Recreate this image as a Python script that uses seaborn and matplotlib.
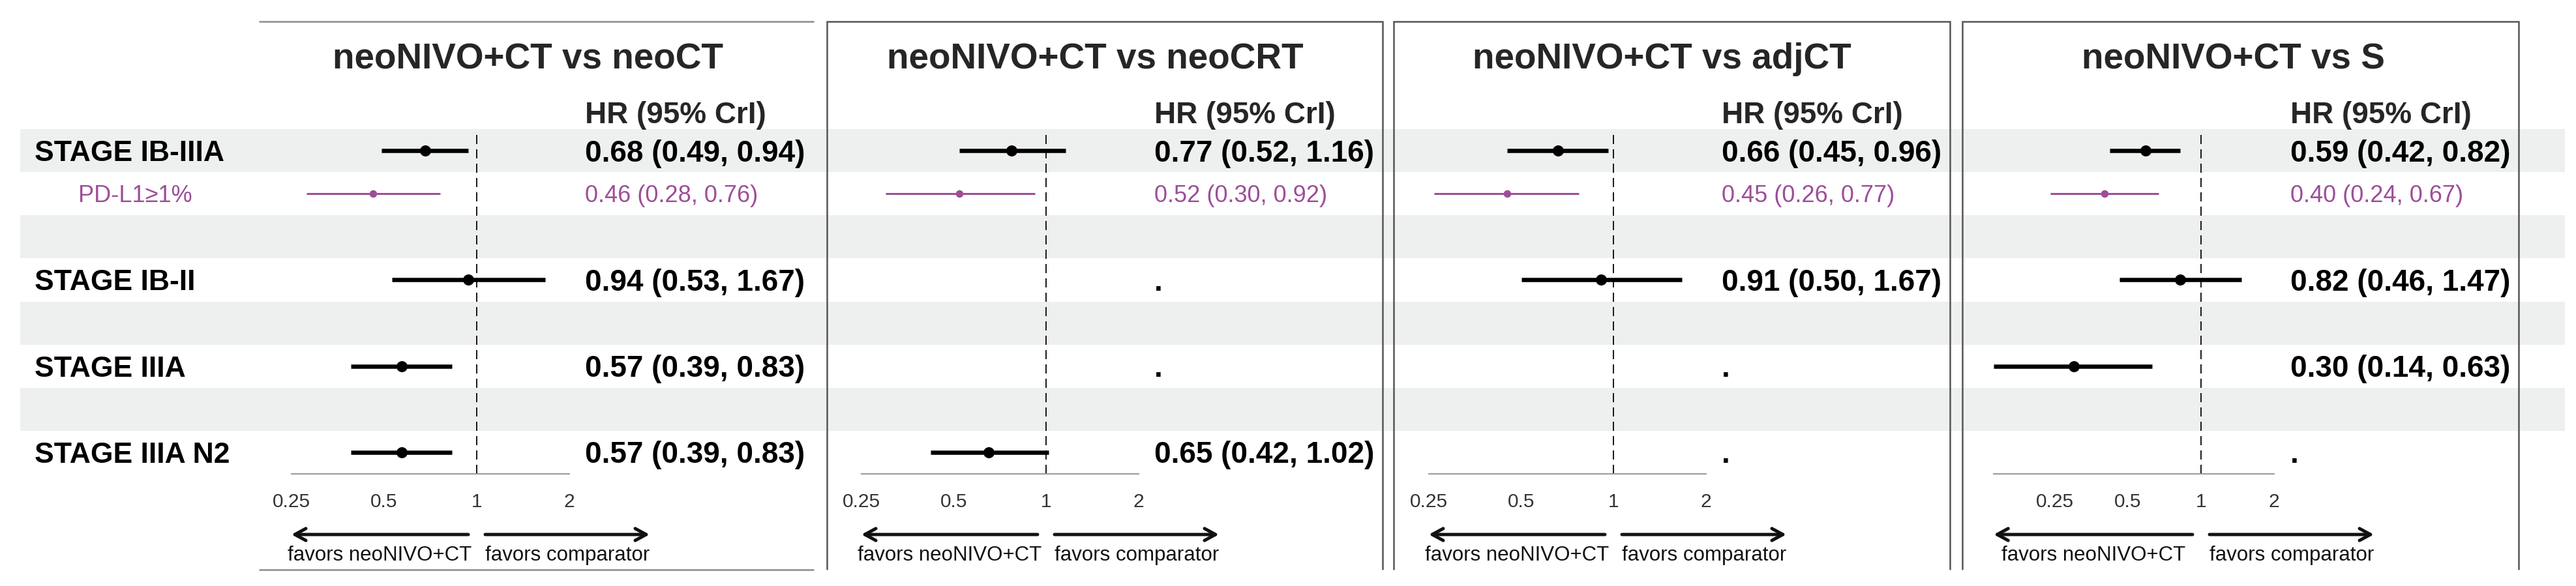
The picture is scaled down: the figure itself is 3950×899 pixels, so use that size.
import numpy as np
import pandas as pd
import matplotlib
matplotlib.use("Agg")
import matplotlib.pyplot as plt
import seaborn as sns

sns.set_style("white")
plt.rcParams['font.family'] = ['Liberation Sans', 'DejaVu Sans']

# ---------------- data ----------------
comparisons = ["neoNIVO+CT vs neoCT", "neoNIVO+CT vs neoCRT",
               "neoNIVO+CT vs adjCT", "neoNIVO+CT vs S"]
subgroups = ["STAGE IB-IIIA", "PD-L1\u22651%", "STAGE IB-II", "STAGE IIIA", "STAGE IIIA N2"]
is_pdl1 = [False, True, False, False, False]

nan = np.nan
hr_neoCT = [0.68, 0.46, 0.94, 0.57, 0.57]
lo_neoCT = [0.49, 0.28, 0.53, 0.39, 0.39]
hi_neoCT = [0.94, 0.76, 1.67, 0.83, 0.83]

hr_neoCRT = [0.77, 0.52, nan, nan, 0.65]
lo_neoCRT = [0.52, 0.30, nan, nan, 0.42]
hi_neoCRT = [1.16, 0.92, nan, nan, 1.02]

hr_adjCT = [0.66, 0.45, 0.91, nan, nan]
lo_adjCT = [0.45, 0.26, 0.50, nan, nan]
hi_adjCT = [0.96, 0.77, 1.67, nan, nan]

hr_S = [0.59, 0.40, 0.82, 0.30, nan]
lo_S = [0.42, 0.24, 0.46, 0.14, nan]
hi_S = [0.82, 0.67, 1.47, 0.63, nan]

tick_values = [0.25, 0.5, 1, 2]
tick_labels = ["0.25", "0.5", "1", "2"]
header = "HR (95% CrI)"
left_label = "favors neoNIVO+CT"
right_label = "favors comparator"

panels = [(hr_neoCT, lo_neoCT, hi_neoCT), (hr_neoCRT, lo_neoCRT, hi_neoCRT),
          (hr_adjCT, lo_adjCT, hi_adjCT), (hr_S, lo_S, hi_S)]

# ---------------- layout (pixels) ----------------
W, H = 3950, 899
DPI = 100
row_of_subgroup = [0, 1, 3, 5, 7]
n_rows = 8
row_top, axis_y = 198, 727
row_h = (axis_y - row_top) / n_rows
ref_px = [731, 1604, 2474, 3375]          # x position of HR = 1
k_px = [142, 141.5, 141.5, 112]           # pixels per doubling
text_px = [897, 1770, 2640, 3512]
title_px = [810, 1679, 2548, 3424]
ax_span = [(400, 890), (1272, 1765), (2141, 2635), (3013, 3505)]
boxes = [(1268, 2120), (2137, 2990), (3009, 3862)]

BLACK = "#000000"
PURPLE = "#9D4E98"
BAND = "#EEF0F0"

def pt(px):
    return px * 72.0 / DPI

fig = plt.figure(figsize=(W / DPI, H / DPI), dpi=DPI)
bg = fig.add_axes([0, 0, 1, 1], zorder=0)
bg.set_xlim(0, W)
bg.set_ylim(H, 0)
bg.axis("off")

def row_c(r):
    return row_top + (r + 0.5) * row_h

# grey bands
for r in range(0, n_rows, 2):
    bg.axhspan(row_top + r * row_h, row_top + (r + 1) * row_h,
               xmin=31 / W, xmax=3933 / W, color=BAND, lw=0, zorder=0)

# row labels
for name, r, pd1 in zip(subgroups, row_of_subgroup, is_pdl1):
    if pd1:
        bg.text(120, row_c(r) + 13, name, fontsize=26, color=PURPLE,
                ha="left", va="baseline")
    else:
        bg.text(53, row_c(r) + 16, name, fontsize=32, fontweight="bold",
                color=BLACK, ha="left", va="baseline")

# panel frames
bg.plot([397, 1248], [33, 33], color="#9c9c9c", lw=pt(3), solid_capstyle="butt", zorder=5)
bg.plot([397, 1248], [874, 874], color="#9c9c9c", lw=pt(3), solid_capstyle="butt", zorder=5)
for x0, x1 in boxes:
    bg.plot([x0, x0, x1, x1], [873, 33, 33, 873], color="#555555", lw=pt(2.5),
            solid_joinstyle="miter", zorder=5)

for p, (hr, lo, hi) in enumerate(panels):
    ref, k = ref_px[p], k_px[p]
    a0, a1 = ax_span[p]
    ax = fig.add_axes([a0 / W, 1 - axis_y / H, (a1 - a0) / W, (axis_y - row_top) / H],
                      zorder=2)
    ax.patch.set_alpha(0)
    ax.set_xscale("log", base=2)
    ax.set_xlim(2 ** ((a0 - ref) / k), 2 ** ((a1 - ref) / k))
    ax.set_ylim(n_rows - 0.5, -0.5)

    df = pd.DataFrame({"hr": hr, "lo": lo, "hi": hi, "row": row_of_subgroup,
                       "pdl1": is_pdl1})
    ok = df.dropna()
    main = ok[~ok.pdl1]
    sub = ok[ok.pdl1]

    ax.axvline(1, ymax=1 - 7 / (axis_y - row_top), color="#1a1a1a", lw=pt(2),
               dashes=(7, 4), zorder=1)
    ax.hlines(main.row, main.lo, main.hi, color=BLACK, lw=pt(6.5), zorder=2)
    ax.hlines(sub.row, sub.lo, sub.hi, color=PURPLE, lw=pt(3), zorder=2)
    sns.scatterplot(data=main, x="hr", y="row", color=BLACK, s=pt(17) ** 2,
                    linewidth=0, ax=ax, zorder=3, legend=False)
    sns.scatterplot(data=sub, x="hr", y="row", color=PURPLE, s=pt(11.5) ** 2,
                    linewidth=0, ax=ax, zorder=3, legend=False)
    ax.set_xlabel("")
    ax.set_ylabel("")
    ax.set_yticks([])

    lower = min(tick_values[0], np.nanmin(lo))
    for s in ["top", "left", "right"]:
        ax.spines[s].set_visible(False)
    ax.spines["bottom"].set_bounds(lower, tick_values[-1])
    ax.spines["bottom"].set_color("#9a9a9a")
    ax.spines["bottom"].set_linewidth(pt(2))
    ax.set_xticks(tick_values)
    ax.set_xticklabels(tick_labels)
    ax.xaxis.set_minor_locator(matplotlib.ticker.NullLocator())
    ax.tick_params(axis="x", direction="out", length=pt(14), width=pt(1.5),
                   color="#9a9a9a", labelsize=21.5, labelcolor="#333333", pad=11)

    # text column
    bg.text(title_px[p], 105, comparisons[p], fontsize=39.5, fontweight="bold",
            ha="center", va="baseline")
    bg.text(text_px[p], 189, header, fontsize=33, fontweight="bold",
            ha="left", va="baseline")
    for h_, l_, u_, r, pd1 in zip(hr, lo, hi, row_of_subgroup, is_pdl1):
        if np.isnan(h_):
            lab = "."
        else:
            lab = f"{h_:.2f} ({l_:.2f}, {u_:.2f})"
        if pd1:
            bg.text(text_px[p], row_c(r) + 13, lab, fontsize=26, color=PURPLE,
                    ha="left", va="baseline")
        else:
            bg.text(text_px[p], row_c(r) + 16.5, lab, fontsize=33, fontweight="bold",
                    color=BLACK, ha="left", va="baseline")

    # favours arrows
    lower_px = ref + k * np.log2(lower)
    ay = 820
    aprops = dict(arrowstyle="->,head_length=0.55,head_width=0.3", lw=pt(5),
                  color="#111111", shrinkA=0, shrinkB=0, mutation_scale=22)
    bg.annotate("", xy=(lower_px, ay), xytext=(ref - 13, ay), arrowprops=aprops)
    bg.annotate("", xy=(ref + 265, ay), xytext=(ref + 13, ay), arrowprops=aprops)
    bg.text((lower_px + ref - 13) / 2, 860, left_label, fontsize=22.5,
            ha="center", va="baseline", color="#111111")
    bg.text(ref + 139, 860, right_label, fontsize=22.5,
            ha="center", va="baseline", color="#111111")

fig.savefig("out.png", dpi=DPI)
